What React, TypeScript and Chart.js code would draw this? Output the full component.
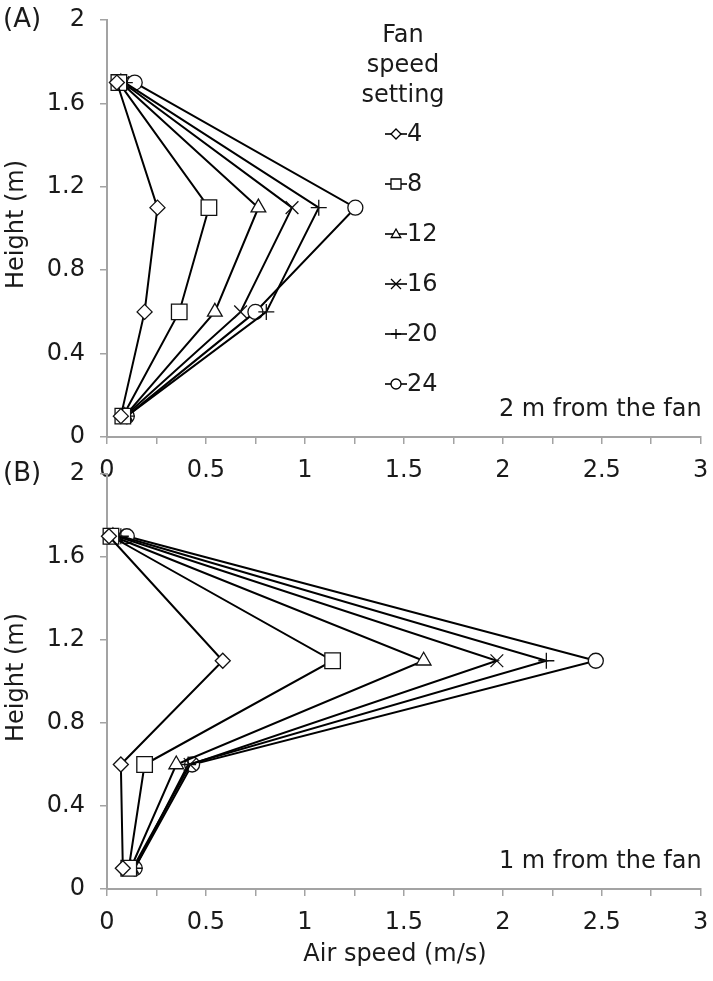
import { useEffect, useRef } from 'react';
import { Chart, registerables } from 'chart.js';

Chart.register(...registerables);

// ---- data ----
const heights = [1.7, 1.1, 0.6, 0.1];
const fanSettings = ['4', '8', '12', '16', '20', '24'];

// Panel A: 2 m from the fan (air speed m/s at each height)
const speedA_4 = [0.05, 0.255, 0.19, 0.07];
const speedA_8 = [0.06, 0.515, 0.365, 0.08];
const speedA_12 = [0.07, 0.765, 0.545, 0.09];
const speedA_16 = [0.08, 0.935, 0.675, 0.09];
const speedA_20 = [0.09, 1.07, 0.805, 0.1];
const speedA_24 = [0.14, 1.255, 0.75, 0.1];

// Panel B: 1 m from the fan
const speedB_4 = [0.01, 0.585, 0.07, 0.08];
const speedB_8 = [0.02, 1.14, 0.19, 0.11];
const speedB_12 = [0.03, 1.6, 0.35, 0.12];
const speedB_16 = [0.05, 1.97, 0.42, 0.13];
const speedB_20 = [0.07, 2.22, 0.41, 0.14];
const speedB_24 = [0.1, 2.47, 0.43, 0.14];

const xTickValues = [0, 0.5, 1, 1.5, 2, 2.5, 3];
const yTickValues = [0, 0.4, 0.8, 1.2, 1.6, 2];

const seriesA = [speedA_4, speedA_8, speedA_12, speedA_16, speedA_20, speedA_24];
const seriesB = [speedB_4, speedB_8, speedB_12, speedB_16, speedB_20, speedB_24];

const markerStyles = ['rectRot', 'rect', 'triangle', 'crossRot', 'cross', 'circle'];
const markerRadii = [7.5, 11, 8.5, 9, 8, 7.5];

const FONT = '"DejaVu Sans", "Liberation Sans", Arial, sans-serif';
const TEXT = '#1a1a1a';
const AXIS = '#a3a3a3';
const FS = 24;

function makeDatasets(series: number[][]) {
  return series.map((vals, i) => ({
    label: fanSettings[i],
    data: vals.map((v, j) => ({ x: v, y: heights[j] })),
    showLine: true,
    borderColor: '#000',
    borderWidth: 2,
    pointStyle: markerStyles[i],
    pointRadius: markerRadii[i],
    pointBackgroundColor: '#fff',
    pointBorderColor: '#111',
    pointBorderWidth: 1.3,
    clip: false as any,
  }));
}

function drawLegendMarker(ctx: CanvasRenderingContext2D, style: string, x: number, y: number, r: number) {
  ctx.beginPath();
  switch (style) {
    case 'rectRot':
      ctx.moveTo(x, y - r); ctx.lineTo(x + r, y); ctx.lineTo(x, y + r); ctx.lineTo(x - r, y); ctx.closePath();
      ctx.fill(); ctx.stroke(); break;
    case 'rect':
      ctx.rect(x - r, y - r, 2 * r, 2 * r); ctx.fill(); ctx.stroke(); break;
    case 'triangle':
      ctx.moveTo(x, y - r); ctx.lineTo(x + r * 0.95, y + r * 0.7); ctx.lineTo(x - r * 0.95, y + r * 0.7); ctx.closePath();
      ctx.fill(); ctx.stroke(); break;
    case 'crossRot':
      ctx.moveTo(x - r, y - r); ctx.lineTo(x + r, y + r); ctx.moveTo(x + r, y - r); ctx.lineTo(x - r, y + r); ctx.stroke(); break;
    case 'cross':
      ctx.moveTo(x - r, y); ctx.lineTo(x + r, y); ctx.moveTo(x, y - r); ctx.lineTo(x, y + r); ctx.stroke(); break;
    case 'circle':
      ctx.arc(x, y, r, 0, Math.PI * 2); ctx.fill(); ctx.stroke(); break;
  }
}

type Extra = {
  panelLabel: string;
  note: string;
  legend: boolean;
  xTitle: boolean;
};

function makeTextPlugin(extra: Extra) {
  return {
    id: 'extraText',
    afterDraw(chart: any) {
      const ctx: CanvasRenderingContext2D = chart.ctx;
      const area = chart.chartArea;
      ctx.save();
      ctx.fillStyle = TEXT;
      // panel label
      ctx.font = `${FS + 2}px ${FONT}`;
      ctx.textAlign = 'left';
      ctx.textBaseline = 'middle';
      ctx.fillText(extra.panelLabel, 3, area.top);
      ctx.font = `${FS}px ${FONT}`;
      // note
      ctx.textAlign = 'right';
      ctx.textBaseline = 'middle';
      ctx.fillText(extra.note, area.right + 1, area.bottom - 27);
      // y title
      ctx.save();
      ctx.translate(17, (area.top + area.bottom) / 2 - 4);
      ctx.rotate(-Math.PI / 2);
      ctx.textAlign = 'center';
      ctx.textBaseline = 'middle';
      ctx.fillText('Height (m)', 0, 0);
      ctx.restore();
      // x title
      if (extra.xTitle) {
        ctx.textAlign = 'center';
        ctx.textBaseline = 'middle';
        ctx.fillText('Air speed (m/s)', 395, area.bottom + 66);
      }
      // legend
      if (extra.legend) {
        const cx = 403;
        ctx.textAlign = 'center';
        ctx.textBaseline = 'middle';
        ctx.fillText('Fan', cx, 36);
        ctx.fillText('speed', cx, 66);
        ctx.fillText('setting', cx, 96);
        const ys = [134, 184, 234, 284, 334, 384];
        fanSettings.forEach((lab, i) => {
          const y = ys[i];
          ctx.strokeStyle = '#000';
          ctx.lineWidth = 1.6;
          ctx.beginPath();
          ctx.moveTo(385, y);
          ctx.lineTo(407, y);
          ctx.stroke();
          ctx.fillStyle = '#fff';
          ctx.lineWidth = 1.3;
          drawLegendMarker(ctx, markerStyles[i], 396, y, 5);
          ctx.fillStyle = TEXT;
          ctx.textAlign = 'left';
          ctx.fillText(lab, 407, y + 1);
        });
      }
      ctx.restore();
    },
  };
}

function makeConfig(series: number[][], extra: Extra, canvasH: number, areaTop: number, areaBottom: number): any {
  return {
    type: 'scatter',
    data: { datasets: makeDatasets(series) },
    options: {
      responsive: false,
      animation: false,
      devicePixelRatio: 1,
      layout: { padding: { top: areaTop, right: 10, bottom: 0, left: 0 } },
      plugins: { legend: { display: false }, tooltip: { enabled: false } },
      scales: {
        x: {
          type: 'linear',
          min: 0,
          max: 3,
          afterBuildTicks: (scale: any) => {
            const t: any[] = [];
            for (let k = 0; k <= 12; k++) t.push({ value: k * 0.25 });
            scale.ticks = t;
          },
          afterFit: (scale: any) => {
            scale.height = canvasH - areaBottom;
            scale.paddingLeft = 0;
            scale.paddingRight = 0;
            scale.paddingTop = 0;
            scale.paddingBottom = 0;
          },
          ticks: {
            autoSkip: false,
            maxRotation: 0,
            padding: 12,
            color: TEXT,
            font: { family: FONT, size: FS },
            callback: (v: number) => {
              const hit = xTickValues.find((t) => Math.abs(t - v) < 1e-6);
              return hit === undefined ? '' : String(hit);
            },
          },
          grid: { drawOnChartArea: false, drawTicks: true, tickLength: 7, color: AXIS, lineWidth: 1.5 },
          border: { display: true, color: AXIS, width: 2 },
        },
        y: {
          type: 'linear',
          min: 0,
          max: 2,
          afterBuildTicks: (scale: any) => {
            scale.ticks = yTickValues.map((v) => ({ value: v }));
          },
          afterFit: (scale: any) => {
            scale.width = 107;
            scale.paddingLeft = 0;
            scale.paddingRight = 0;
            scale.paddingTop = 0;
            scale.paddingBottom = 0;
          },
          ticks: {
            autoSkip: false,
            padding: 15,
            color: TEXT,
            font: { family: FONT, size: FS },
            callback: (v: number) => String(Number(v.toFixed(1))),
          },
          grid: { drawOnChartArea: false, drawTicks: true, tickLength: 7, color: AXIS, lineWidth: 1.5 },
          border: { display: true, color: AXIS, width: 2 },
        },
      },
    },
    plugins: [makeTextPlugin(extra)],
  };
}

export default function App() {
  const refA = useRef<HTMLCanvasElement>(null);
  const refB = useRef<HTMLCanvasElement>(null);

  useEffect(() => {
    document.body.style.margin = '0';
    const a = new Chart(refA.current!, makeConfig(seriesA, { panelLabel: '(A)', note: '2 m from the fan', legend: true, xTitle: false }, 500, 20, 437));
    const b = new Chart(refB.current!, makeConfig(seriesB, { panelLabel: '(B)', note: '1 m from the fan', legend: false, xTitle: true }, 531, 24, 439));
    return () => { a.destroy(); b.destroy(); };
  }, []);

  return (
    <div style={{ position: 'absolute', left: 0, top: 0, width: 713, height: 981, background: '#fff' }}>
      <canvas ref={refA} width={713} height={500} style={{ position: 'absolute', left: 0, top: 0, width: 713, height: 500 }} />
      <canvas ref={refB} width={713} height={531} style={{ position: 'absolute', left: 0, top: 450, width: 713, height: 531 }} />
    </div>
  );
}
